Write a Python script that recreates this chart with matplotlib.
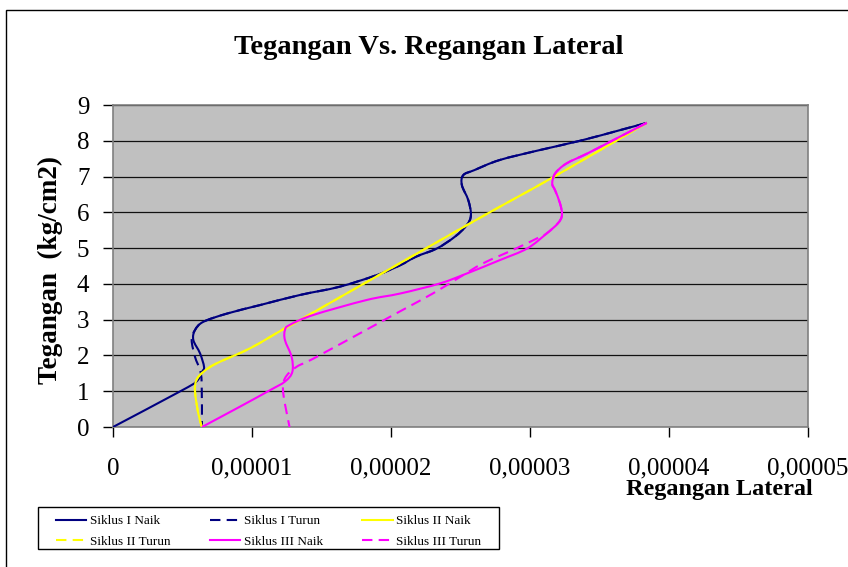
import matplotlib
matplotlib.use('Agg')
import matplotlib.pyplot as plt
from matplotlib.patches import Rectangle, PathPatch
from matplotlib.path import Path
from matplotlib.lines import Line2D
from matplotlib.ticker import FixedLocator, FixedFormatter
import numpy as np

plt.rcParams['font.family'] = ['Liberation Serif', 'DejaVu Serif']

# regangan lateral in units of 1e-5, tegangan in kg/cm2
s1_naik_x = [0, 0.48, 0.60, 0.64, 0.655, 0.626, 0.578, 0.59, 0.65, 0.82, 1.06,
             1.345, 1.63, 1.90, 2.065, 2.18, 2.33, 2.46, 2.545, 2.575, 2.556,
             2.51, 2.52, 2.60, 2.78, 3.07, 3.36, 3.65, 3.84]
s1_naik_y = [0, 0.99, 1.27, 1.54, 1.68, 2.06, 2.43, 2.71, 2.94, 3.17, 3.41,
             3.69, 3.92, 4.25, 4.52, 4.76, 4.99, 5.32, 5.64, 5.92, 6.34,
             6.76, 7.04, 7.18, 7.46, 7.74, 8.0, 8.30, 8.5]

s1_turun_x = [3.84, 3.65, 3.36, 3.07, 2.78, 2.60, 2.52, 2.51, 2.556, 2.575,
              2.545, 2.46, 2.33, 2.18, 2.065, 1.90, 1.63, 1.345, 1.06, 0.82,
              0.65, 0.59, 0.566, 0.59, 0.626, 0.638, 0.64]
s1_turun_y = [8.5, 8.30, 8.0, 7.74, 7.46, 7.18, 7.04, 6.76, 6.34, 5.92,
              5.64, 5.32, 4.99, 4.76, 4.52, 4.25, 3.92, 3.69, 3.41, 3.17,
              2.94, 2.71, 2.43, 1.96, 1.59, 1.22, 0]

s2_naik_x = [0.64, 0.614, 0.59, 0.60, 0.65, 0.746, 0.986, 1.237, 1.345,
             2.545, 3.17, 3.84]
s2_naik_y = [0, 0.37, 0.99, 1.31, 1.54, 1.78, 2.20, 2.76, 2.99,
             5.64, 6.99, 8.5]

s2_turun_x = [3.84, 3.17, 2.545, 1.345, 1.237, 0.986, 0.746, 0.65, 0.60,
              0.59, 0.614, 0.64]
s2_turun_y = [8.5, 6.99, 5.64, 2.99, 2.76, 2.20, 1.78, 1.54, 1.31,
              0.99, 0.37, 0]

s3_naik_x = [0.64, 0.914, 1.13, 1.237, 1.29, 1.285, 1.237, 1.237, 1.27, 1.44,
             1.825, 2.065, 2.35, 2.545, 2.78, 2.98, 3.12, 3.20, 3.23, 3.216,
             3.18, 3.16, 3.18, 3.26, 3.41, 3.60, 3.84]
s3_naik_y = [0, 0.57, 1.03, 1.27, 1.54, 1.96, 2.43, 2.71, 2.85, 3.13,
             3.55, 3.73, 4.01, 4.29, 4.66, 4.99, 5.41, 5.69, 5.92, 6.25,
             6.62, 6.80, 7.08, 7.36, 7.64, 8.02, 8.5]

s3_turun_x = [3.84, 3.60, 3.41, 3.26, 3.18, 3.16, 3.18, 3.216, 3.23, 3.20,
              3.12, 3.07, 2.90, 2.66, 2.50, 2.30, 2.04, 1.465, 1.32, 1.237,
              1.225, 1.27]
s3_turun_y = [8.5, 8.02, 7.64, 7.36, 7.08, 6.80, 6.62, 6.25, 5.92, 5.69,
              5.41, 5.31, 4.99, 4.57, 4.20, 3.73, 3.18, 1.96, 1.68, 1.36,
              0.94, 0]

x_ticks = [0, 0.00001, 0.00002, 0.00003, 0.00004, 0.00005]
x_tick_labels = ['0', '0,00001', '0,00002', '0,00003', '0,00004', '0,00005']
y_ticks = list(range(10))

series = [
    ('Siklus I Naik', s1_naik_x, s1_naik_y, '#000080', '-'),
    ('Siklus I Turun', s1_turun_x, s1_turun_y, '#000080', '--'),
    ('Siklus II Naik', s2_naik_x, s2_naik_y, '#FFFF00', '-'),
    ('Siklus II Turun', s2_turun_x, s2_turun_y, '#FFFF00', '--'),
    ('Siklus III Naik', s3_naik_x, s3_naik_y, '#FF00FF', '-'),
    ('Siklus III Turun', s3_turun_x, s3_turun_y, '#FF00FF', '--'),
]


def smooth_path(xs, ys):
    # Catmull-Rom style cubic segments through the points (like a smoothed line)
    p = np.column_stack([np.asarray(xs) * 1e-5, ys])
    n = len(p)
    verts = [p[0]]
    codes = [Path.MOVETO]
    for i in range(n - 1):
        p0 = p[i - 1] if i > 0 else p[i]
        p3 = p[i + 2] if i + 2 < n else p[i + 1]
        c1 = p[i] + (p[i + 1] - p0) / 6.0
        c2 = p[i + 1] - (p3 - p[i]) / 6.0
        verts += [c1, c2, p[i + 1]]
        codes += [Path.CURVE4] * 3
    return Path(verts, codes)


fig = plt.figure(figsize=(8.48, 5.67), dpi=100)
ax = fig.add_axes([113/848, 140/567, 695/848, 322/567])
ax.set_facecolor('#C0C0C0')

handles = []
for name, xs, ys, col, ls in series:
    style = '-' if ls == '-' else (0, (5, 3))
    ax.add_patch(PathPatch(smooth_path(xs, ys), fill=False, ec=col, lw=1.5,
                           ls=style, zorder=3))
    handles.append(Line2D([], [], color=col, lw=1.5, ls=style))

ax.set_xlim(0, 0.00005)
ax.set_ylim(0, 9)
ax.xaxis.set_major_locator(FixedLocator(x_ticks))
ax.xaxis.set_major_formatter(FixedFormatter(x_tick_labels))
ax.set_yticks(y_ticks)
ax.yaxis.grid(True, color='#111111', lw=0.9)
ax.set_axisbelow(True)
for sp in ax.spines.values():
    sp.set_color('#808080')
    sp.set_linewidth(1.2)
ax.tick_params(axis='both', direction='out', length=7, width=1, color='black',
               labelsize=18)
ax.tick_params(axis='x', pad=15)
ax.tick_params(axis='y', pad=10)

fig.text(429/848, 1 - 47/567, 'Tegangan Vs. Regangan Lateral', ha='center',
         va='center', fontsize=20.5, fontweight='bold')
fig.text(50/848, 1 - 270/567, 'Tegangan  (kg/cm2)', rotation=90, ha='center',
         va='center', fontsize=19.5, fontweight='bold')
fig.text(719/848, 1 - 490/567, 'Regangan Lateral', ha='center', va='center',
         fontsize=17.5, fontweight='bold')

# outer chart border
fig.add_artist(Rectangle((6/848, -0.1), 1.2, 1.1 - 10/567, transform=fig.transFigure,
                         fill=False, ec='black', lw=1))

# legend box drawn separately so the entries can sit inset like the original
fig.add_artist(Rectangle((38/848, 1 - 549/567), 461/848, 42/567,
                         transform=fig.transFigure, fc='white', ec='black', lw=1))
order = [0, 3, 1, 4, 2, 5]
leg = fig.legend([handles[i] for i in order], [series[i][0] for i in order],
                 ncol=3, loc='lower left', bbox_to_anchor=(56/848, 1 - 548/567),
                 fontsize=9.5, frameon=False, borderpad=0, borderaxespad=0,
                 handlelength=2.3, columnspacing=3.0, labelspacing=0.65,
                 handletextpad=0.25)

fig.savefig('out.png', dpi=100)
